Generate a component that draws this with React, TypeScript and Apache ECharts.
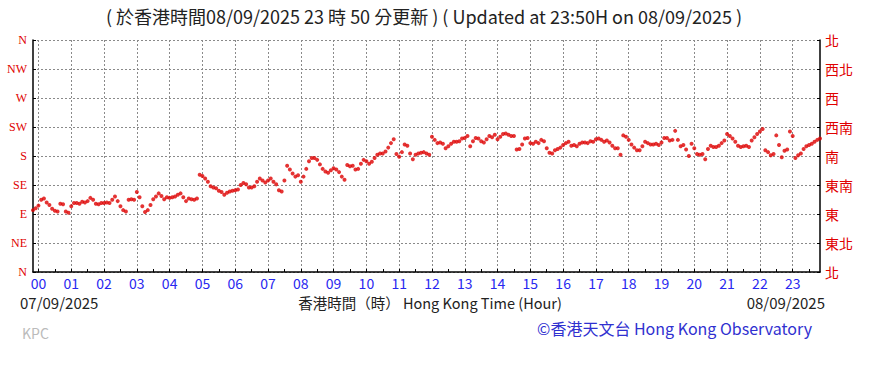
import React, { useEffect, useRef } from "react";
import * as echarts from "echarts";

// Wind direction (degrees) every 5 minutes, starting 23:50 of the previous day (-10 min)
const START_MIN = -10;
const STEP_MIN = 5;
const windDirection = [
  96, 99,
  103, 112, 114, 108, 104, 98, 95, 94, 106, 105, 94, 92,
  102, 107, 107, 106, 109, 108, 110, 115, 112, 106, 105, 107,
  107, 108, 107, 112, 117, 110, 102, 96, 94, 112, 113, 112,
  124, 116, 102, 93, 96, 104, 113, 117, 122, 118, 113, 116,
  115, 116, 117, 120, 122, 116, 110, 114, 113, 112, 114, 151,
  149, 145, 140, 133, 131, 130, 126, 124, 120, 123, 125, 126,
  127, 128, 135, 138, 136, 131, 131, 133, 140, 145, 142, 139,
  142, 145, 140, 136, 127, 125, 142, 165, 159, 153, 148, 150,
  140, 148, 160, 172, 177, 177, 174, 167, 160, 156, 154, 158,
  161, 159, 155, 148, 143, 166, 164, 165, 159, 160, 168, 174,
  172, 168, 171, 177, 182, 184, 184, 187, 193, 200, 206, 183,
  179, 186, 198, 196, 184, 175, 182, 184, 185, 186, 184, 182,
  210, 205, 200, 201, 199, 192, 195, 199, 202, 202, 203, 207,
  208, 211, 195, 203, 208, 207, 203, 201, 206, 211, 209, 213,
  206, 210, 214, 215, 213, 211, 211, 190, 191, 198, 207, 208,
  200, 199, 202, 200, 205, 203, 192, 185, 184, 189, 191, 193,
  197, 200, 202, 196, 197, 195, 199, 201, 201, 200, 203, 202,
  206, 207, 205, 202, 204, 201, 196, 192, 192, 182, 212, 210,
  205, 198, 193, 189, 189, 195, 202, 200, 198, 198, 199, 197,
  201, 208, 208, 204, 205, 219, 205, 195, 197, 190, 180, 199,
  192, 183, 182, 183, 175, 191, 196, 194, 194, 196, 200, 204,
  214, 211, 207, 202, 196, 194, 195, 196, 194, 204, 209, 214,
  218, 222, 189, 186, 181, 183, 212, 197, 178, 188, 190, 218,
  211, 177, 181, 184, 191, 195, 197, 199, 202, 205, 207,
];

const dirLabelsEn = ["N", "NE", "E", "SE", "S", "SW", "W", "NW", "N"];
const dirLabelsZh = ["北", "東北", "東", "東南", "南", "西南", "西", "西北", "北"];
const hourLabels = [
  "00", "01", "02", "03", "04", "05", "06", "07", "08", "09", "10", "11",
  "12", "13", "14", "15", "16", "17", "18", "19", "20", "21", "22", "23",
];

const titleText = "( 於香港時間08/09/2025 23 時 50 分更新 ) ( Updated at 23:50H on 08/09/2025 )";
const startDate = "07/09/2025";
const endDate = "08/09/2025";
const axisTitle = "香港時間（時） Hong Kong Time (Hour)";
const stationCode = "KPC";
const credit = "©香港天文台 Hong Kong Observatory";

const SANS = "'Noto Sans CJK TC', 'Noto Sans', sans-serif";

export default function App() {
  const ref = useRef<HTMLDivElement>(null);

  useEffect(() => {
    if (!ref.current) return;
    const chart = echarts.init(ref.current, null, { renderer: "svg" });
    const minutes = windDirection.map((_, i) => String(START_MIN + i * STEP_MIN));
    const isHour = (v: string) => Number(v) >= 0 && Number(v) % 60 === 0;
    const isHalf = (v: string) => Number(v) >= 0 && Number(v) % 30 === 0;

    chart.setOption({
      animation: false,
      backgroundColor: "#ffffff",
      grid: { left: 33, right: 59, top: 40, bottom: 102, containLabel: false, outerBoundsMode: "none" },
      xAxis: {
        type: "category",
        data: minutes,
        boundaryGap: false,
        axisLine: { show: true, lineStyle: { color: "#000", width: 1.5 } },
        axisTick: {
          show: true,
          inside: true,
          length: 3,
          interval: (_i: number, v: string) => isHalf(v),
          lineStyle: { color: "#000" },
        },
        axisLabel: {
          interval: (_i: number, v: string) => isHour(v),
          formatter: (v: string) => hourLabels[Number(v) / 60] ?? "",
          color: "#2828f0",
          fontSize: 14,
          fontFamily: SANS,
          margin: 4,
        },
        splitLine: {
          show: true,
          interval: (_i: number, v: string) => isHour(v),
          lineStyle: { color: "#8a8a8a", type: [2, 2], width: 1 },
        },
      },
      yAxis: [
        {
          type: "value",
          min: 0,
          max: 360,
          interval: 45,
          position: "left",
          axisLine: { show: true, lineStyle: { color: "#000", width: 1.5 } },
          axisTick: { show: true, inside: true, length: 3, lineStyle: { color: "#000" } },
          axisLabel: {
            formatter: (v: number) => dirLabelsEn[Math.round(v / 45)],
            color: "#e00000",
            fontSize: 12,
            fontFamily: "'Liberation Serif', serif",
            margin: 6,
          },
          splitLine: { show: true, lineStyle: { color: "#8a8a8a", type: [2, 2], width: 1 } },
        },
        {
          type: "value",
          min: 0,
          max: 360,
          interval: 45,
          position: "right",
          axisLine: { show: true, lineStyle: { color: "#000", width: 1.5 } },
          axisTick: { show: true, inside: true, length: 3, lineStyle: { color: "#000" } },
          axisLabel: {
            formatter: (v: number) => dirLabelsZh[Math.round(v / 45)],
            color: "#e00000",
            fontSize: 14,
            fontFamily: SANS,
            margin: 5,
          },
          splitLine: { show: false },
        },
      ],
      series: [
        {
          type: "scatter",
          data: windDirection,
          xAxisIndex: 0,
          yAxisIndex: 0,
          symbol: "circle",
          symbolSize: 4,
          itemStyle: { color: "#dd0000" },
        },
      ],
      graphic: [
        {
          type: "text",
          x: 424,
          y: 16,
          style: {
            text: titleText,
            fill: "#222",
            font: `18px ${SANS}`,
            align: "center",
            verticalAlign: "middle",
          },
        },
        {
          type: "text",
          x: 20,
          y: 302,
          style: { text: startDate, fill: "#222", font: `15px ${SANS}`, align: "left", verticalAlign: "middle" },
        },
        {
          type: "text",
          x: 825,
          y: 302,
          style: { text: endDate, fill: "#222", font: `15px ${SANS}`, align: "right", verticalAlign: "middle" },
        },
        {
          type: "text",
          x: 430,
          y: 302,
          style: { text: axisTitle, fill: "#222", font: `14.5px ${SANS}`, align: "center", verticalAlign: "middle" },
        },
        {
          type: "text",
          x: 22,
          y: 333,
          style: { text: stationCode, fill: "#bbb", font: `14px ${SANS}`, align: "left", verticalAlign: "middle" },
        },
        {
          type: "text",
          x: 812,
          y: 328,
          style: { text: credit, fill: "#3030d0", font: `16px ${SANS}`, align: "right", verticalAlign: "middle" },
        },
      ],
    });

    return () => chart.dispose();
  }, []);

  return (
    <div
      ref={ref}
      style={{ position: "absolute", left: 0, top: 0, width: 879, height: 374, background: "#fff" }}
    />
  );
}
